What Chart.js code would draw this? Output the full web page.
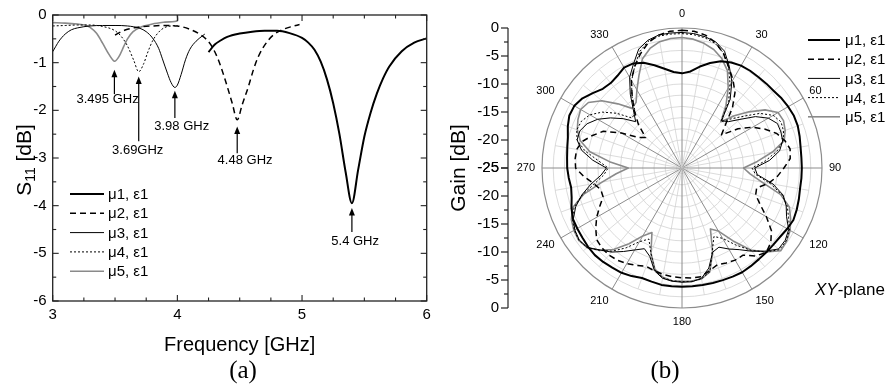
<!DOCTYPE html>
<html>
<head>
<meta charset="utf-8">
<script src="https://cdn.jsdelivr.net/npm/chart.js@4.4.1/dist/chart.umd.min.js"></script>
<style>
  html, body { margin: 0; padding: 0; background: #fff; }
  #wrap { position: relative; width: 896px; height: 388px; overflow: hidden; }
  .pane { position: absolute; top: 0; width: 448px; height: 388px; }
  #s11Pane { left: 0; }
  #gainPane { left: 448px; }
</style>
</head>
<body>
<div id="wrap">
  <div class="pane" id="s11Pane"><canvas id="s11" width="448" height="388"></canvas></div>
  <div class="pane" id="gainPane"><canvas id="gain" width="448" height="388"></canvas></div>
</div>
<script>
// ---------- series names ----------
const seriesNames = ['\u03bc1, \u03b51', '\u03bc2, \u03b51', '\u03bc3, \u03b51', '\u03bc4, \u03b51', '\u03bc5, \u03b51'];

// ---------- (a) reflection coefficient S11 [dB] vs frequency [GHz] ----------
const s11Mu1Freq = [4.25, 4.3, 4.35, 4.4, 4.5, 4.6, 4.7, 4.8, 4.9, 5.0, 5.05, 5.1, 5.15, 5.2, 5.25, 5.3, 5.35, 5.4, 5.45, 5.5, 5.55, 5.6, 5.65, 5.7, 5.8, 5.9, 6.0];
const s11Mu1Db   = [-0.78, -0.62, -0.53, -0.46, -0.39, -0.35, -0.33, -0.33, -0.38, -0.48, -0.58, -0.73, -0.98, -1.35, -1.85, -2.5, -3.3, -3.95, -3.25, -2.55, -2.05, -1.65, -1.33, -1.08, -0.76, -0.58, -0.49];

const s11Mu2Freq = [3.5, 3.55, 3.6, 3.7, 3.8, 3.9, 4.0, 4.1, 4.2, 4.25, 4.29, 4.33, 4.37, 4.4, 4.44, 4.48, 4.52, 4.57, 4.61, 4.65, 4.72, 4.78, 4.85, 4.92, 4.98];
const s11Mu2Db   = [-0.42, -0.35, -0.3, -0.25, -0.23, -0.22, -0.23, -0.3, -0.44, -0.56, -0.72, -0.95, -1.25, -1.5, -1.85, -2.2, -1.88, -1.5, -1.15, -0.87, -0.56, -0.4, -0.3, -0.24, -0.2];

const s11Mu3Freq = [3.0, 3.05, 3.1, 3.15, 3.2, 3.3, 3.4, 3.5, 3.6, 3.7, 3.75, 3.8, 3.85, 3.88, 3.92, 3.95, 3.98, 4.0, 4.03, 4.065, 4.1, 4.15, 4.2, 4.22];
const s11Mu3Db   = [-0.77, -0.55, -0.4, -0.31, -0.27, -0.23, -0.22, -0.22, -0.23, -0.28, -0.35, -0.48, -0.7, -0.92, -1.22, -1.42, -1.52, -1.47, -1.25, -0.94, -0.72, -0.55, -0.44, -0.4];

const s11Mu4Freq = [3.0, 3.1, 3.2, 3.3, 3.4, 3.5, 3.55, 3.6, 3.65, 3.69, 3.73, 3.76, 3.8, 3.85, 3.9, 3.95, 4.0];
const s11Mu4Db   = [-0.23, -0.22, -0.21, -0.21, -0.24, -0.33, -0.45, -0.65, -0.95, -1.19, -1.02, -0.8, -0.55, -0.36, -0.26, -0.23, -0.22];

const s11Mu5Freq = [3.0, 3.1, 3.2, 3.26, 3.3, 3.35, 3.4, 3.45, 3.495, 3.53, 3.57, 3.6, 3.645, 3.7, 3.8, 3.9, 4.0, 4.0];
const s11Mu5Db   = [-0.16, -0.17, -0.19, -0.21, -0.26, -0.38, -0.59, -0.82, -0.97, -0.88, -0.66, -0.5, -0.35, -0.26, -0.19, -0.15, -0.12, 0];

const freqTicks = [3, 4, 5, 6];
const s11Ticks = [0, -1, -2, -3, -4, -5, -6];

// resonance call-outs
const resonanceGHz  = [3.495, 3.69, 3.98, 4.48, 5.4];
const resonanceText = ['3.495 GHz', '3.69GHz', '3.98 GHz', '4.48 GHz', '5.4 GHz'];
// arrow tip / tail (dB) and label centre (GHz, dB), in axis units
const callouts = [
  { tip: -1.15, tail: -1.66, lx: 3.44,  ly: -1.78 },
  { tip: -1.29, tail: -2.65, lx: 3.682, ly: -2.85 },
  { tip: -1.59, tail: -2.16, lx: 4.035, ly: -2.34 },
  { tip: -2.34, tail: -2.90, lx: 4.543, ly: -3.06 },
  { tip: -4.05, tail: -4.55, lx: 5.426, ly: -4.75 }
];

// ---------- (b) XY-plane gain pattern [dB], 0..355 deg ----------
const polarAngles = [0, 5, 10, 15, 20, 25, 30, 35, 40, 45, 50, 55, 60, 65, 70, 75, 80, 85, 90, 95, 100, 105, 110, 115,
  120, 125, 130, 135, 140, 145, 150, 155, 160, 165, 170, 175, 180, 185, 190, 195, 200, 205, 210, 215, 220, 225, 230, 235,
  240, 245, 250, 255, 260, 265, 270, 275, 280, 285, 290, 295, 300, 305, 310, 315, 320, 325, 330, 335, 340, 345, 350, 355];

const gainMu1 = [
  -8.1, -7.7, -6.6, -5.6, -4.7, -4.2, -3.9, -3.8, -3.8, -3.7, -3.6, -3.3,
  -3.1, -2.95, -3.0, -3.25, -3.5, -3.6, -3.6, -3.6, -3.6, -3.4, -3.2, -3.05,
  -3.3, -3.6, -3.7, -3.7, -3.7, -3.6, -3.5, -3.6, -3.7, -3.75, -3.8, -3.8,
  -3.8, -3.8, -3.8, -4.0, -4.1, -3.7, -3.4, -3.3, -3.1, -3.0, -3.1, -3.3,
  -3.4, -3.5, -4.0, -4.6, -4.9, -4.7, -4.5, -4.4, -4.2, -3.9, -3.3, -2.8,
  -2.8, -3.3, -4.2, -5.0, -5.2, -4.9, -4.3, -4.4, -5.0, -6.0, -7.0, -7.8
];
const gainMu2 = [
  -0.4, -0.5, -0.9, -1.8, -3.3, -5.2, -6.8, -8.5, -11.0, -14.0, -15.8, -12.8,
  -10.4, -8.6, -7.0, -6.0, -5.4, -5.6, -6.8, -7.9, -9.3, -11.2, -11.0, -9.6,
  -7.6, -5.5, -4.3, -3.7, -4.5, -6.0, -6.0, -6.3, -6.6, -6.0, -5.3, -5.3,
  -5.4, -5.5, -5.7, -6.0, -6.3, -5.8, -5.3, -4.9, -4.7, -4.8, -5.1, -6.2,
  -7.4, -8.8, -10.0, -10.0, -9.0, -7.4, -6.0, -5.85, -5.9, -6.6, -8.0, -9.5,
  -12.5, -15.5, -16.5, -14.0, -11.8, -9.5, -6.9, -5.0, -3.3, -1.8, -0.9, -0.5
];
const gainMu3 = [
  -0.8, -0.9, -1.2, -1.7, -2.8, -5.0, -7.2, -10.0, -14.0, -13.3, -11.5, -9.0,
  -7.2, -6.2, -6.2, -6.4, -7.3, -9.3, -12.0, -11.5, -8.5, -6.3, -5.2, -4.4,
  -3.0, -2.5, -2.5, -4.0, -5.6, -7.2, -8.3, -9.4, -9.0, -6.5, -5.0, -4.6,
  -4.6, -4.7, -5.0, -6.0, -8.2, -9.1, -8.1, -6.8, -5.4, -4.3, -2.9, -2.6,
  -2.9, -3.6, -4.8, -6.5, -8.5, -10.5, -11.5, -9.0, -6.8, -5.6, -5.6, -6.3,
  -7.6, -9.4, -11.3, -13.3, -11.5, -8.9, -6.3, -4.5, -2.4, -1.4, -0.9, -0.8
];
const gainMu4 = [
  -1.0, -1.1, -1.4, -2.0, -3.2, -5.3, -7.8, -10.5, -14.2, -12.6, -10.6, -8.0,
  -6.2, -5.5, -5.7, -6.3, -7.8, -10.0, -12.5, -11.8, -9.0, -6.5, -5.0, -4.0,
  -2.8, -2.3, -2.3, -3.8, -5.8, -8.2, -10.5, -11.5, -9.2, -5.8, -4.9, -4.7,
  -4.7, -4.8, -5.1, -6.2, -8.8, -11.0, -9.8, -7.6, -5.6, -4.2, -2.9, -2.5,
  -2.8, -3.4, -4.5, -6.6, -9.2, -11.0, -11.8, -10.0, -7.4, -5.6, -5.0, -5.2,
  -6.0, -7.6, -9.8, -12.4, -12.0, -9.4, -7.0, -5.0, -2.9, -1.6, -1.1, -1.0
];
const gainMu5 = [
  -1.7, -1.9, -2.4, -3.1, -4.2, -5.8, -8.5, -11.3, -14.2, -11.8, -9.4, -6.9,
  -5.2, -5.0, -5.4, -6.1, -8.6, -11.5, -14.0, -12.8, -10.5, -6.8, -4.6, -3.6,
  -2.7, -2.2, -2.0, -3.8, -5.9, -9.1, -12.0, -13.0, -9.0, -5.8, -4.9, -4.75,
  -4.75, -4.8, -5.2, -6.3, -8.8, -12.3, -11.0, -8.5, -6.0, -4.2, -2.9, -2.5,
  -2.7, -3.2, -4.2, -6.8, -10.5, -13.2, -15.4, -12.0, -8.3, -6.2, -5.1, -4.5,
  -4.1, -4.6, -6.3, -8.8, -11.1, -10.7, -8.9, -6.8, -4.3, -2.9, -2.1, -1.8
];

const gainRings = [-24, -22, -20, -18, -16, -14, -12, -10, -8, -6, -4, -2, 0];
const gainTicks = [0, -5, -10, -15, -20, -25];
const angleTickLabels = ['0', '30', '60', '90', '120', '150', '180', '210', '240', '270', '300', '330'];

// ---------- shared styling ----------
const SANS = '"Liberation Sans", Arial, Helvetica, sans-serif';
const SERIF = '"Liberation Serif", "Times New Roman", serif';
const AXIS = '#222';
const lineStyles = [
  { color: '#000',    width: 2.0, dash: [] },
  { color: '#000',    width: 1.5, dash: [6, 4] },
  { color: '#000',    width: 1.0, dash: [] },
  { color: '#000',    width: 1.0, dash: [2, 2] },
  { color: '#8a8a8a', width: 1.6, dash: [] }
];

function toPoints(fs, ds) { return fs.map((f, i) => ({ x: f, y: ds[i] })); }

function subdivide(majors, parts) {
  const out = [];
  for (let k = 0; k < majors.length - 1; k++) {
    for (let m = 0; m < parts; m++) {
      out.push({ v: majors[k] + (majors[k + 1] - majors[k]) * m / parts, major: m === 0 });
    }
  }
  out.push({ v: majors[majors.length - 1], major: true });
  return out;
}

function seg(ctx, x1, y1, x2, y2) { ctx.beginPath(); ctx.moveTo(x1, y1); ctx.lineTo(x2, y2); ctx.stroke(); }

function drawLegend(ctx, chart, x0, x1, tx, y0, dy) {
  chart.data.datasets.forEach((ds, i) => {
    const y = y0 + dy * i;
    ctx.save();
    ctx.strokeStyle = ds.borderColor; ctx.lineWidth = ds.borderWidth;
    ctx.setLineDash(ds.borderDash || []);
    seg(ctx, x0, y, x1, y);
    ctx.restore();
    ctx.fillStyle = '#000'; ctx.font = '15px ' + SANS;
    ctx.textAlign = 'left'; ctx.textBaseline = 'middle';
    ctx.fillText(ds.label, tx, y + 1);
  });
}

// ---------- (a) ----------
const s11Series = [
  toPoints(s11Mu1Freq, s11Mu1Db), toPoints(s11Mu2Freq, s11Mu2Db), toPoints(s11Mu3Freq, s11Mu3Db),
  toPoints(s11Mu4Freq, s11Mu4Db), toPoints(s11Mu5Freq, s11Mu5Db)
];

const s11Decor = {
  id: 's11Decor',
  afterDatasetsDraw(chart) {
    const { ctx, chartArea: a, scales: { x, y } } = chart;
    ctx.save();
    ctx.strokeStyle = AXIS; ctx.lineWidth = 1.3;
    ctx.strokeRect(a.left, a.top, a.right - a.left, a.bottom - a.top);
    ctx.lineWidth = 1.1;
    subdivide(freqTicks, 4).forEach(t => {
      const px = x.getPixelForValue(t.v), len = t.major ? 6 : 3.5;
      seg(ctx, px, a.bottom, px, a.bottom - len);
      seg(ctx, px, a.top, px, a.top + len);
    });
    subdivide(s11Ticks, 2).forEach(t => {
      const py = y.getPixelForValue(t.v), len = t.major ? 6 : 3.5;
      seg(ctx, a.left, py, a.left + len, py);
      seg(ctx, a.right, py, a.right - len, py);
    });

    // resonance arrows and labels
    ctx.fillStyle = '#000'; ctx.strokeStyle = '#000'; ctx.lineWidth = 1.2;
    resonanceGHz.forEach((f, i) => {
      const c = callouts[i];
      const px = x.getPixelForValue(f);
      const tipY = y.getPixelForValue(c.tip), tailY = y.getPixelForValue(c.tail);
      seg(ctx, px, tipY + 5, px, tailY);
      ctx.beginPath();
      ctx.moveTo(px, tipY); ctx.lineTo(px - 3, tipY + 7.5); ctx.lineTo(px + 3, tipY + 7.5); ctx.closePath();
      ctx.fill();
      ctx.font = '13px ' + SANS; ctx.textAlign = 'center'; ctx.textBaseline = 'middle';
      ctx.fillText(resonanceText[i], x.getPixelForValue(c.lx), y.getPixelForValue(c.ly));
    });

    drawLegend(ctx, chart, 70, 104, 108, 194, 19.3);

    // y title with subscript
    ctx.save();
    ctx.translate(24, 160); ctx.rotate(-Math.PI / 2);
    ctx.fillStyle = '#000'; ctx.textBaseline = 'alphabetic'; ctx.textAlign = 'left';
    const big = '21px ' + SANS, small = '14px ' + SANS;
    ctx.font = big; const wS = ctx.measureText('S').width; const wT = ctx.measureText(' [dB]').width;
    ctx.font = small; const wSub = ctx.measureText('11').width;
    let cx = -(wS + wSub + wT) / 2;
    ctx.font = big; ctx.fillText('S', cx, 7); cx += wS;
    ctx.font = small; ctx.fillText('11', cx, 11); cx += wSub;
    ctx.font = big; ctx.fillText(' [dB]', cx, 7);
    ctx.restore();

    ctx.font = '25px ' + SERIF; ctx.textAlign = 'center'; ctx.textBaseline = 'middle';
    ctx.fillText('(a)', 243, 371);
    ctx.restore();
  }
};

new Chart(document.getElementById('s11'), {
  type: 'line',
  data: {
    datasets: s11Series.map((pts, i) => ({
      label: seriesNames[i], data: pts,
      borderColor: lineStyles[i].color, borderWidth: lineStyles[i].width, borderDash: lineStyles[i].dash,
      fill: false, pointRadius: 0,
      cubicInterpolationMode: i === 4 ? 'default' : 'monotone', tension: i === 4 ? 0.3 : 0
    }))
  },
  options: {
    responsive: false, animation: false, devicePixelRatio: 1,
    layout: { padding: { left: 0, right: 21.3, top: 15, bottom: 0 } },
    plugins: { legend: { display: false }, tooltip: { enabled: false } },
    scales: {
      x: {
        type: 'linear', min: 3, max: 6,
        afterBuildTicks: s => { s.ticks = freqTicks.map(v => ({ value: v })); },
        afterFit: s => { s.height = 87; },
        grid: { display: false, drawTicks: false }, border: { display: false },
        ticks: { color: '#000', font: { family: SANS, size: 15 }, padding: 5, maxRotation: 0, autoSkip: false },
        title: { display: true, text: 'Frequency [GHz]', color: '#000', font: { family: SANS, size: 20 }, padding: { top: 0, bottom: 31 } }
      },
      y: {
        type: 'linear', min: -6, max: 0,
        afterBuildTicks: s => { s.ticks = s11Ticks.map(v => ({ value: v })); },
        afterFit: s => { s.width = 52.7; },
        grid: { display: false, drawTicks: false }, border: { display: false },
        ticks: { color: '#000', font: { family: SANS, size: 15 }, padding: 6, autoSkip: false }
      }
    }
  },
  plugins: [s11Decor]
});

// ---------- (b) ----------
const gainSeries = [gainMu1, gainMu2, gainMu3, gainMu4, gainMu5];

const gainDecor = {
  id: 'gainDecor',
  beforeDatasetsDraw(chart) {
    const r = chart.scales.r, ctx = chart.ctx;
    ctx.save();
    polarAngles.forEach((deg, i) => {
      if (deg % 10 !== 0) return;
      const major = deg % 30 === 0;
      const end = r.getPointPositionForValue(i, major ? r.max : gainRings[gainRings.length - 2]);
      ctx.strokeStyle = major ? '#8c8c8c' : '#d2d2d2';
      ctx.lineWidth = major ? 1 : 0.8;
      seg(ctx, r.xCenter, r.yCenter, end.x, end.y);
    });
    ctx.restore();
  },
  afterDraw(chart) {
    const r = chart.scales.r, ctx = chart.ctx;
    ctx.save();
    // angle labels
    ctx.fillStyle = '#000'; ctx.font = '11px ' + SANS; ctx.textBaseline = 'middle';
    angleTickLabels.forEach(lbl => {
      const deg = Number(lbl), idx = polarAngles.indexOf(deg);
      const p = r.getPointPosition(idx, r.drawingArea + 7);
      const rad = deg * Math.PI / 180;
      ctx.textAlign = (deg === 0 || deg === 180) ? 'center' : (deg < 180 ? 'left' : 'right');
      ctx.fillText(lbl, p.x, p.y - Math.cos(rad) * 7);
    });

    // linear gain axis on the left
    const ax = 60, top = r.yCenter - r.drawingArea, bot = r.yCenter + r.drawingArea;
    ctx.strokeStyle = AXIS; ctx.lineWidth = 1.2;
    seg(ctx, ax, top, ax, bot);
    ctx.font = '15px ' + SANS; ctx.textAlign = 'right'; ctx.textBaseline = 'middle';
    gainTicks.forEach((v, k) => {
      const d = r.getDistanceFromCenterForValue(v);
      [r.yCenter - d, r.yCenter + d].forEach(yy => {
        seg(ctx, ax - 7, yy, ax, yy);
        ctx.fillText(String(v), ax - 9, yy);
      });
      if (k < gainTicks.length - 1) {
        const dm = r.getDistanceFromCenterForValue((v + gainTicks[k + 1]) / 2);
        seg(ctx, ax - 4, r.yCenter - dm, ax, r.yCenter - dm);
        seg(ctx, ax - 4, r.yCenter + dm, ax, r.yCenter + dm);
      }
    });

    ctx.save();
    ctx.translate(11, r.yCenter); ctx.rotate(-Math.PI / 2);
    ctx.font = '21px ' + SANS; ctx.textAlign = 'center'; ctx.textBaseline = 'middle';
    ctx.fillText('Gain [dB]', 0, 0);
    ctx.restore();

    drawLegend(ctx, chart, 360, 392, 397, 40, 19.2);

    // plane caption
    ctx.textAlign = 'left'; ctx.textBaseline = 'middle';
    ctx.font = 'italic 17px ' + SANS; ctx.fillText('XY', 367, 290);
    const wXY = ctx.measureText('XY').width;
    ctx.font = '17px ' + SANS; ctx.fillText('-plane', 367 + wXY, 290);

    ctx.font = '25px ' + SERIF; ctx.textAlign = 'center';
    ctx.fillText('(b)', 217, 371);
    ctx.restore();
  }
};

new Chart(document.getElementById('gain'), {
  type: 'radar',
  data: {
    labels: polarAngles,
    datasets: gainSeries.map((vals, i) => ({
      label: seriesNames[i], data: vals,
      borderColor: lineStyles[i].color, borderWidth: lineStyles[i].width, borderDash: lineStyles[i].dash,
      fill: false, pointRadius: 0, tension: 0, borderJoinStyle: 'round'
    }))
  },
  options: {
    responsive: false, animation: false, devicePixelRatio: 1,
    layout: { padding: { left: 94, right: 74, top: 28, bottom: 80 } },
    plugins: { legend: { display: false }, tooltip: { enabled: false } },
    elements: { point: { radius: 0 } },
    scales: {
      r: {
        min: -25, max: 0,
        afterBuildTicks: s => { s.ticks = gainRings.map(v => ({ value: v })); },
        ticks: { display: false },
        pointLabels: { display: false },
        angleLines: { display: false },
        grid: {
          circular: true,
          color: c => (c.tick && c.tick.value === 0) ? '#8c8c8c' : '#d2d2d2',
          lineWidth: c => (c.tick && c.tick.value === 0) ? 1.2 : 0.8
        }
      }
    }
  },
  plugins: [gainDecor]
});
</script>
</body>
</html>
